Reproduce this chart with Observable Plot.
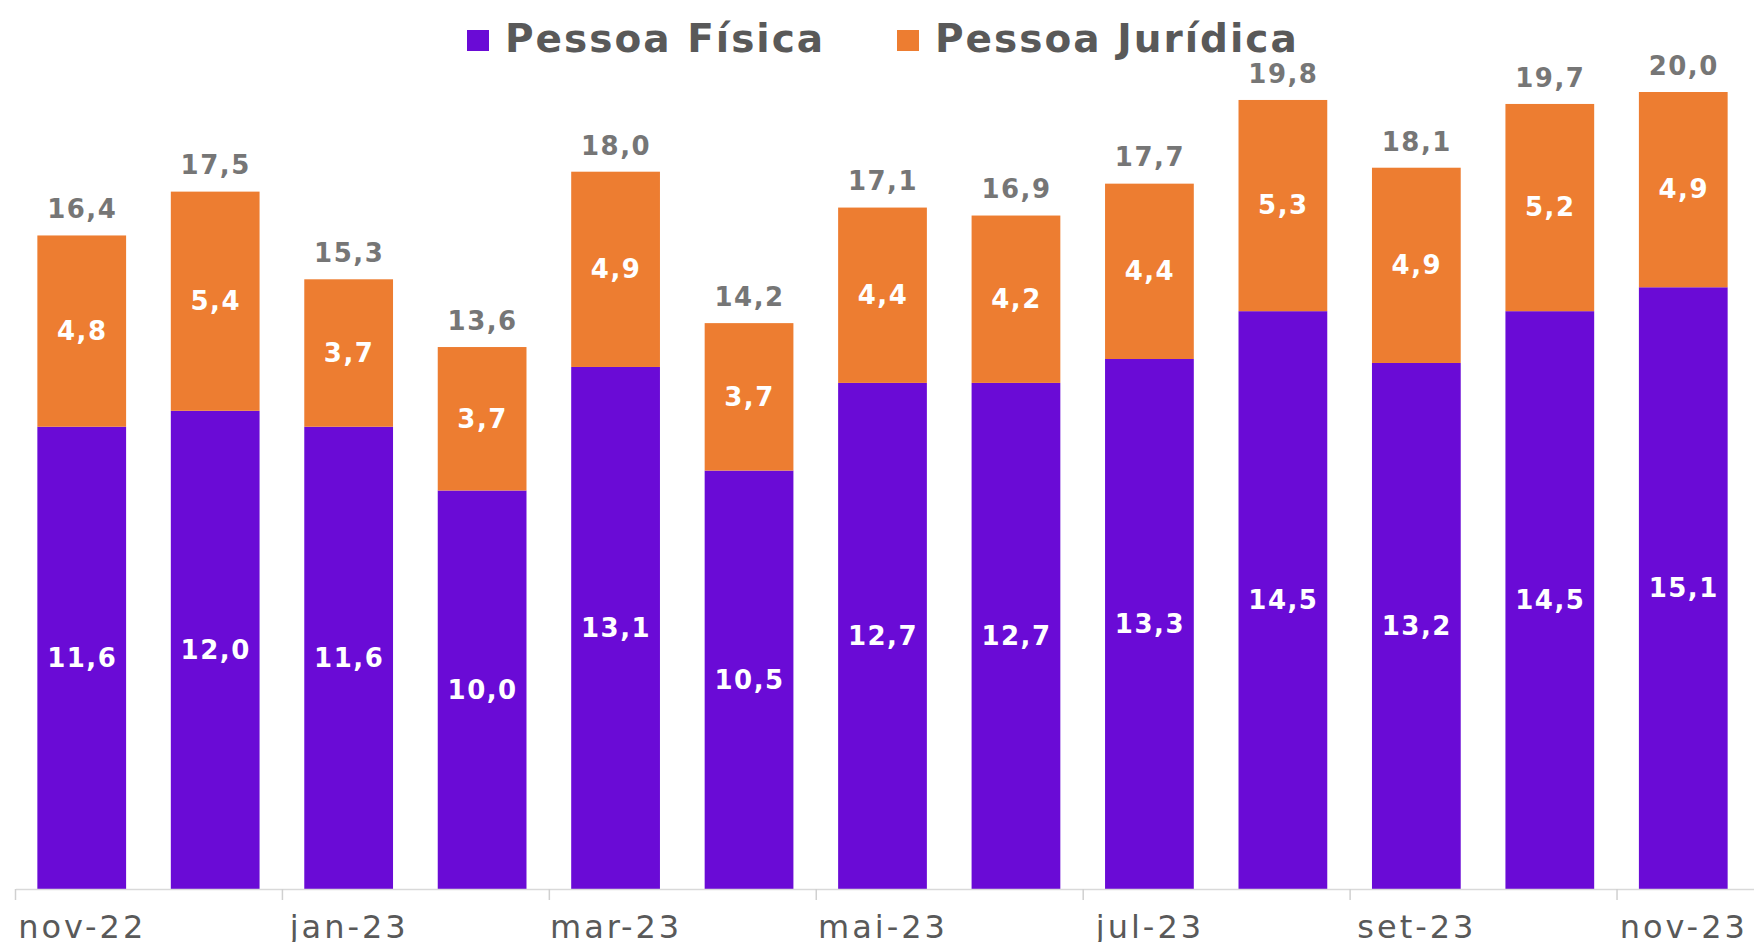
<!DOCTYPE html>
<html>
<head>
<meta charset="utf-8">
<script src="https://cdn.jsdelivr.net/npm/d3@7"></script>
<script src="https://cdn.jsdelivr.net/npm/@observablehq/plot@0.6"></script>
<style>
  html, body { margin: 0; padding: 0; background: #fff; }
  body { width: 1754px; height: 942px; overflow: hidden; font-family: "DejaVu Sans", sans-serif; }
  #legend { position: relative; height: 40px; width: 1754px; z-index: 1; }
  .lab { position: absolute; font-size: 39px; font-weight: 700; color: #595959; letter-spacing: 2px; white-space: nowrap; top: 17px; line-height: 44px; }
  #chart svg text { letter-spacing: 1.5px; }
  #chart svg .xlab text { letter-spacing: 3px; }
</style>
</head>
<body>
<div id="legend"></div>
<div id="chart"></div>
<script>
const months = ["nov-22","dez-22","jan-23","fev-23","mar-23","abr-23","mai-23","jun-23","jul-23","ago-23","set-23","out-23","nov-23"];
const pessoaFisica = [11.6, 12.0, 11.6, 10.0, 13.1, 10.5, 12.7, 12.7, 13.3, 14.5, 13.2, 14.5, 15.1];
const pessoaJuridica = [4.8, 5.4, 3.7, 3.7, 4.9, 3.7, 4.4, 4.2, 4.4, 5.3, 4.9, 5.2, 4.9];
const totals = [16.4, 17.5, 15.3, 13.6, 18.0, 14.2, 17.1, 16.9, 17.7, 19.8, 18.1, 19.7, 20.0];
const shownTicks = ["nov-22","jan-23","mar-23","mai-23","jul-23","set-23","nov-23"];
const seriesNames = ["Pessoa Física", "Pessoa Jurídica"];
const colors = ["#6A0BD6", "#ED7D31"];

const rows = months.map((m, i) => ({month: m, pf: pessoaFisica[i], pj: pessoaJuridica[i], total: totals[i]}));
const fmt = v => v.toFixed(1).replace(".", ",");

// legend
const legend = document.getElementById("legend");
const legendPos = [{sq: 467, tx: 505}, {sq: 897, tx: 935}];
seriesNames.forEach((name, i) => {
  const sq = document.createElement("div");
  sq.style.cssText = `position:absolute;left:${legendPos[i].sq}px;top:30px;width:22px;height:21px;background:${colors[i]}`;
  legend.appendChild(sq);
  const t = document.createElement("div");
  t.className = "lab";
  t.style.left = legendPos[i].tx + "px";
  t.textContent = name;
  legend.appendChild(t);
});

const W = 1754, H = 902, mL = 15, mR = 4, mT = 52, mB = 53;
const step = (W - mL - mR) / months.length;

const chart = Plot.plot({
  width: W,
  height: H,
  marginLeft: mL,
  marginRight: mR,
  marginTop: mT,
  marginBottom: mB,
  style: {fontFamily: "DejaVu Sans, sans-serif", background: "transparent", overflow: "visible"},
  x: {type: "band", domain: months, paddingInner: 0.335, paddingOuter: 0.1675, round: false, axis: null},
  y: {domain: [0, 20], axis: null},
  marks: [
    Plot.barY(rows, {x: "month", y: "pf", fill: colors[0]}),
    Plot.barY(rows, {x: "month", y1: "pf", y2: "total", fill: colors[1]}),
    Plot.ruleY([0], {stroke: "#d9d9d9", strokeWidth: 1.5, insetRight: -4, insetLeft: 1}),
    Plot.axisX(shownTicks, {tickSize: 11, fill: "none", stroke: "#d0d0d0", strokeWidth: 1.5, dx: -step / 2}),
    Plot.text(shownTicks, {x: d => d, frameAnchor: "bottom", dy: 48, text: d => d, fill: "#595959", fontSize: 32, className: "xlab"}),
    Plot.text(rows, {x: "month", y: d => d.pf / 2, text: d => fmt(d.pf), fill: "#fff", fontSize: 26, fontWeight: 700}),
    Plot.text(rows, {x: "month", y: d => (d.pf + d.total) / 2, text: d => fmt(d.pj), fill: "#fff", fontSize: 26, fontWeight: 700}),
    Plot.text(rows, {x: "month", y: "total", dy: -26, text: d => fmt(d.total), fill: "#767676", fontSize: 26, fontWeight: 700})
  ]
});
document.getElementById("chart").appendChild(chart);
</script>
</body>
</html>
